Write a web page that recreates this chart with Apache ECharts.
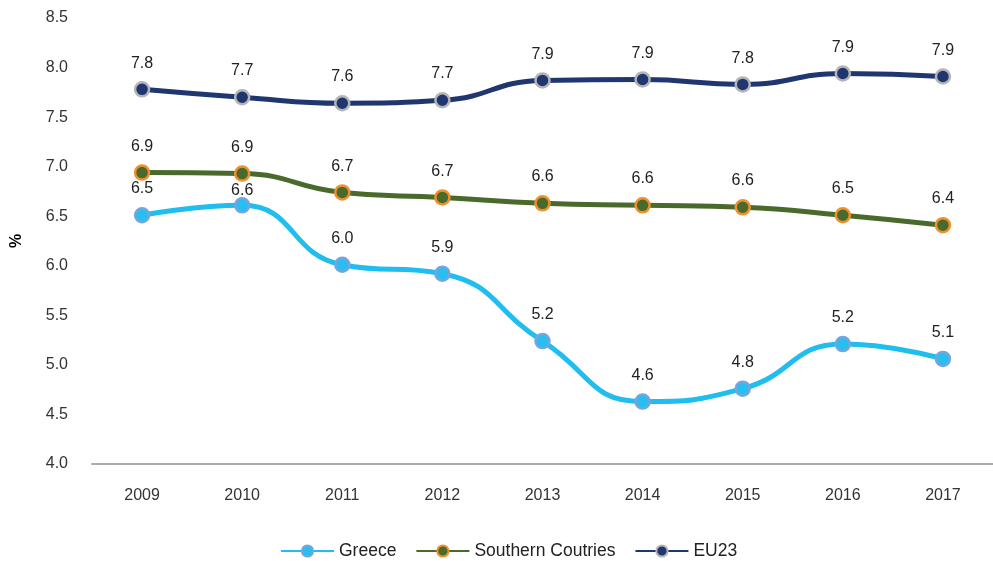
<!DOCTYPE html>
<html>
<head>
<meta charset="utf-8">
<script src="https://cdn.jsdelivr.net/npm/echarts@6/dist/echarts.min.js"></script>
<style>
  html, body { margin: 0; padding: 0; background: #fff; }
  #chart { width: 993px; height: 561px; }
</style>
</head>
<body>
<div id="chart"></div>
<script>
// data
var years = ['2009', '2010', '2011', '2012', '2013', '2014', '2015', '2016', '2017'];
var greece = [6.51, 6.61, 6.01, 5.92, 5.24, 4.63, 4.76, 5.21, 5.06];
var southern = [6.94, 6.93, 6.74, 6.69, 6.63, 6.61, 6.59, 6.51, 6.41];
var eu23 = [7.78, 7.70, 7.64, 7.67, 7.87, 7.88, 7.83, 7.94, 7.91];

var chart = echarts.init(document.getElementById('chart'));

function makeSeries(name, data, lineColor, fill, border) {
    return {
        name: name,
        type: 'line',
        smooth: true,
        data: data,
        symbol: 'circle',
        symbolSize: 14,
        lineStyle: { color: lineColor, width: 5 },
        itemStyle: { color: fill, borderColor: border, borderWidth: 2.5 },
        label: {
            show: true,
            position: 'top',
            distance: 10,
            color: '#222',
            fontSize: 16,
            formatter: function (p) { return p.value.toFixed(1); }
        }
    };
}

var greeceSeries = makeSeries('Greece', greece, '#20bdef', '#27bff0', '#74a6dd');
// the 2010 label sits a bit lower so it clears the green line
greeceSeries.labelLayout = function (p) {
    return p.dataIndex === 1 ? { dy: 12 } : {};
};

var option = {
    textStyle: { fontFamily: 'Liberation Sans, Arial, sans-serif' },
    animation: false,
    grid: { left: 92, right: 0, top: 18, bottom: 97, outerBoundsMode: 'none', containLabel: false },
    legend: {
        top: 537,
        left: 275,
        itemWidth: 53,
        itemHeight: 14,
        itemGap: 19,
        textStyle: { fontSize: 17.5, color: '#222' },
        data: ['Greece', 'Southern Coutries', 'EU23']
    },
    xAxis: {
        type: 'category',
        data: years,
        axisLine: { lineStyle: { color: '#aaa', width: 2 } },
        axisTick: { show: false },
        axisLabel: { color: '#333', fontSize: 16, margin: 24 }
    },
    yAxis: {
        type: 'value',
        min: 4,
        max: 8.5,
        interval: 0.5,
        name: '%',
        nameLocation: 'middle',
        nameGap: 67,
        nameTextStyle: { fontWeight: 'bold', fontSize: 16, color: '#000' },
        axisLine: { show: false },
        axisTick: { show: false },
        splitLine: { show: false },
        axisLabel: {
            color: '#333',
            fontSize: 16,
            margin: 24,
            formatter: function (v) { return v.toFixed(1); }
        }
    },
    series: [
        greeceSeries,
        makeSeries('Southern Coutries', southern, '#4a6a2c', '#4a6a2c', '#f0902c'),
        makeSeries('EU23', eu23, '#1f3670', '#1f3670', '#b5b5b5')
    ]
};

chart.setOption(option);
</script>
</body>
</html>
